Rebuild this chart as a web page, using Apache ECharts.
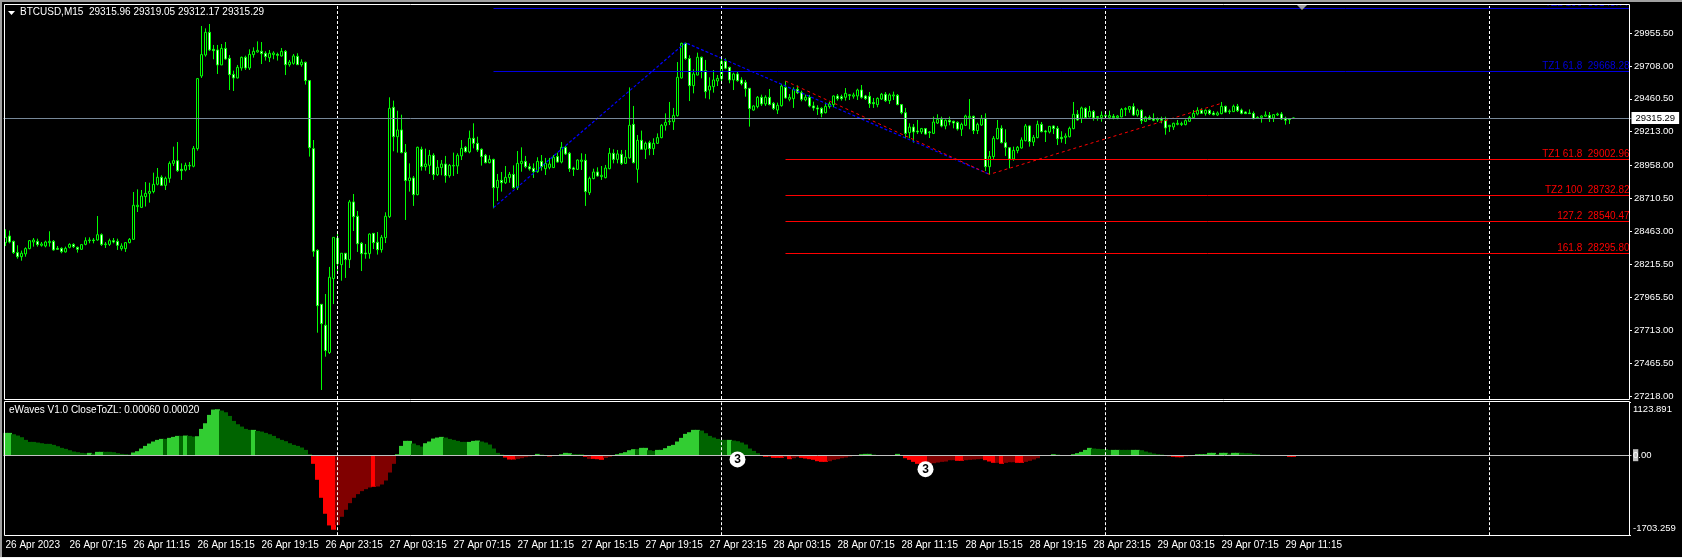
<!DOCTYPE html>
<html>
<head>
<meta charset="utf-8">
<title>BTCUSD,M15</title>
<style>
  html, body { margin: 0; padding: 0; background: #000; }
  #chart { width: 1682px; height: 558px; }
</style>
<script src="https://cdn.jsdelivr.net/npm/echarts@6/dist/echarts.min.js"></script>
</head>
<body>
<div id="chart"></div>
<script>
// 蜡烛数据 [open, close, low, high]，按天分开
const barsApr26 = [
[28376,28416,28351,28477],[28426,28381,28371,28467],[28386,28301,28291,28391],[28301,28270,28255,28356],[28270,28296,28240,28316],[28291,28331,28270,28341],[28331,28391,28326,28396],[28381,28396,28346,28411],
[28386,28361,28346,28406],[28356,28366,28346,28381],[28351,28381,28341,28391],[28376,28386,28346,28462],[28386,28321,28316,28396],[28333,28326,28321,28351],[28333,28308,28296,28341],[28306,28333,28301,28346],
[28341,28363,28333,28371],[28363,28346,28336,28371],[28341,28326,28301,28346],[28326,28361,28321,28366],[28363,28391,28356,28416],[28391,28396,28371,28416],[28396,28391,28371,28411],[28396,28436,28391,28577],
[28436,28363,28351,28446],[28361,28366,28336,28381],[28363,28391,28351,28406],[28391,28381,28371,28411],[28386,28356,28321,28406],[28331,28351,28316,28371],[28331,28376,28306,28381],[28376,28401,28371,28411],
[28401,28658,28396,28758],[28648,28658,28607,28778],[28642,28728,28637,28773],[28723,28748,28648,28833],[28748,28763,28678,28828],[28761,28816,28748,28904],[28816,28869,28808,28939],[28869,28808,28803,28884],
[28808,28861,28773,28874],[28861,28974,28828,28989],[28974,28994,28954,29100],[28994,28919,28909,29135],[28929,28919,28849,28974],[28924,28959,28914,28979],[28954,28959,28924,28984],[28952,29087,28944,29105],
[29085,29613,29070,29618],[29633,29794,29618,30010],[29791,29962,29779,29992],[29962,29829,29821,30025],[29834,29824,29759,29867],[29829,29716,29648,29867],[29716,29841,29716,29874],[29841,29761,29754,29889],
[29766,29643,29527,29791],[29645,29618,29520,29673],[29618,29698,29615,29716],[29693,29774,29673,29779],[29774,29693,29678,29786],[29693,29796,29678,29834],[29794,29819,29771,29849],[29814,29826,29809,29894],
[29819,29801,29723,29889],[29804,29779,29749,29819],[29771,29804,29738,29829],[29794,29806,29759,29819],[29796,29789,29749,29809],[29784,29819,29779,29844],[29819,29718,29640,29829],[29718,29738,29703,29754],
[29728,29784,29718,29799],[29781,29718,29716,29804],[29718,29738,29703,29759],[29736,29598,29568,29741],[29598,29092,29025,29603],[29085,28311,28270,29150],[28318,27901,27697,28326],[27911,27765,27265,27911],
[27753,27562,27516,27989],[27547,28115,27537,28193],[28105,28416,27913,28416]
];
const barsApr27 = [
[28409,28218,28145,28446],[28210,28296,28089,28296],[28296,28248,28110,28296],[28248,28683,28185,28698],[28683,28572,28464,28743],[28575,28368,28306,28615],[28371,28293,28162,28381],[28298,28291,28255,28366],
[28293,28441,28255,28446],[28446,28376,28328,28446],[28379,28323,28286,28456],[28323,28416,28301,28434],[28414,28575,28373,28605],[28572,29389,28562,29472],[29397,29175,29065,29447],[29175,29226,29055,29371],
[29226,29055,29050,29341],[29057,28844,28547,29120],[28844,28864,28761,28974],[28864,28738,28653,28879],[28738,29095,28733,29100],[29080,28949,28919,29100],[28949,28969,28919,29085],[28959,29035,28894,29075],
[29035,28889,28849,29050],[28889,28944,28879,28999],[28942,28969,28884,28999],[28969,28881,28828,29030],[28881,28959,28866,28969],[28954,28959,28879,29055],[28954,29035,28894,29050],[29030,29087,28999,29150],
[29095,29062,29055,29105],[29060,29163,29050,29221],[29163,29125,29087,29276],[29125,29075,29060,29175],[29080,29025,28957,29087],[29035,28979,28974,29045],[28979,29004,28974,29035],[29004,28791,28635,29009],
[28791,28846,28690,28894],[28846,28828,28761,28909],[28828,28869,28818,28954],[28866,28891,28828,28909],[28891,28791,28783,28959],[28791,28974,28773,29067],[28972,28989,28911,29095],[28989,28949,28937,29030],
[28949,28932,28919,28974],[28937,28911,28864,28974],[28911,28989,28904,29020],[28989,28949,28919,29037],[28934,28974,28886,29015],[28944,28969,28929,29015],[28942,29020,28939,29037],[29025,28984,28979,29055],
[28984,29095,28974,29135],[29095,29045,29037,29105],[29050,28934,28909,29060],[28939,28929,28879,28949],[28929,28999,28924,29004],[28989,28999,28924,29050],[28997,28761,28653,29045],[28753,28861,28735,28874],
[28859,28909,28854,28934],[28909,28879,28874,28944],[28874,28884,28849,28954],[28866,28939,28861,28962],[28934,29050,28929,29090],[29050,29004,28974,29080],[29004,29045,28974,29075],[29042,28974,28962,29075],
[28974,29020,28969,29075],[29015,29261,29009,29547],[29268,28979,28974,29407],[28929,29148,28828,29188],[29148,29080,29075,29221],[29080,29125,29007,29138],[29130,29085,29035,29145],[29085,29125,29037,29163],
[29125,29168,29120,29200],[29168,29261,29163,29271],[29261,29283,29221,29351],[29288,29293,29263,29437],[29288,29336,29226,29392],[29334,29623,29326,29738],[29618,29879,29613,29884],[29879,29764,29754,29884],
[29764,29560,29444,29789],[29560,29648,29502,29683],[29640,29774,29638,29809],[29774,29668,29615,29779],[29673,29515,29464,29754],[29527,29557,29457,29623],[29552,29603,29507,29678],[29595,29615,29557,29640]
];
const barsApr28 = [
[29613,29743,29590,29774],[29743,29691,29683,29766],[29698,29603,29578,29703],[29603,29648,29527,29658],[29648,29598,29590,29663],[29603,29575,29562,29623],[29585,29537,29477,29603],[29540,29387,29251,29540],
[29376,29407,29371,29412],[29402,29472,29389,29482],[29472,29422,29407,29492],[29422,29472,29407,29487],[29472,29417,29412,29535],[29427,29387,29376,29437],[29376,29412,29346,29432],[29409,29557,29402,29573],
[29547,29467,29462,29593],[29457,29472,29442,29497],[29462,29532,29392,29547],[29532,29507,29497,29562],[29507,29457,29442,29522],[29452,29472,29442,29492],[29472,29407,29397,29490],[29407,29392,29371,29439],
[29392,29384,29339,29412],[29389,29351,29321,29397],[29356,29404,29351,29432],[29402,29422,29387,29437],[29417,29482,29397,29487],[29482,29462,29447,29497],[29477,29462,29447,29492],[29472,29502,29447,29542],
[29485,29492,29452,29497],[29480,29490,29462,29507],[29482,29527,29452,29537],[29527,29472,29462,29565],[29482,29462,29452,29490],[29480,29424,29392,29512],[29432,29424,29392,29467],[29417,29464,29397,29472],
[29459,29495,29452,29505],[29495,29447,29437,29512],[29447,29490,29422,29502],[29482,29490,29452,29515],[29487,29417,29412,29497],[29417,29356,29344,29422],[29356,29200,29163,29392],[29206,29248,29163,29276],
[29248,29211,29130,29271],[29218,29211,29195,29301],[29211,29236,29195,29241],[29236,29195,29190,29241],[29211,29206,29165,29218],[29200,29286,29195,29326],[29278,29306,29271,29344],[29306,29256,29246,29326],
[29256,29299,29231,29306],[29299,29286,29261,29326],[29291,29278,29238,29296],[29283,29233,29221,29291],[29231,29268,29180,29281],[29261,29331,29256,29341],[29319,29329,29231,29459],[29329,29221,29195,29334],
[29221,29268,29195,29281],[29263,29314,29256,29339],[29314,28949,28916,29351],[28949,29027,28891,29067],[29025,29163,28999,29180],[29160,29238,29155,29301],[29238,29130,29125,29261],[29130,29095,29030,29231],
[29092,29007,28937,29097],[29007,29072,28994,29100],[29070,29095,29050,29105],[29090,29150,29085,29170],[29145,29256,29140,29271],[29256,29138,29100,29261],[29135,29170,29105,29188],[29168,29268,29163,29296],
[29268,29213,29208,29286],[29218,29211,29135,29226],[29211,29253,29200,29256],[29256,29236,29195,29261],[29238,29160,29112,29256],[29170,29160,29130,29216],[29170,29180,29120,29200],[29175,29238,29170,29251],
[29236,29344,29231,29437],[29344,29301,29296,29376],[29314,29392,29278,29402],[29389,29319,29311,29397],[29324,29366,29321,29407],[29366,29316,29296,29376],[29326,29321,29296,29331],[29319,29336,29288,29366]
];
const barsApr29 = [
[29329,29336,29321,29366],[29321,29334,29306,29371],[29329,29319,29306,29346],[29319,29331,29306,29339],[29324,29381,29321,29392],[29381,29387,29331,29397],[29381,29402,29356,29407],[29402,29339,29331,29427],
[29339,29374,29326,29387],[29374,29296,29271,29381],[29291,29321,29286,29331],[29321,29306,29301,29336],[29309,29299,29291,29351],[29301,29309,29286,29321],[29309,29299,29276,29326],[29296,29241,29190,29326],
[29251,29261,29211,29263],[29248,29276,29226,29281],[29268,29276,29261,29301],[29273,29268,29256,29288],[29266,29296,29261,29306],[29291,29321,29286,29331],[29319,29351,29311,29376],[29346,29374,29336,29397],
[29374,29351,29346,29389],[29351,29374,29334,29381],[29374,29349,29339,29381],[29354,29341,29336,29369],[29339,29354,29331,29366],[29349,29404,29344,29437],[29404,29361,29354,29409],[29364,29369,29346,29381],
[29364,29404,29361,29417],[29404,29371,29361,29422],[29376,29351,29344,29387],[29361,29349,29346,29366],[29354,29349,29346,29381],[29351,29311,29306,29366],[29314,29321,29309,29329],[29319,29331,29281,29336],
[29329,29339,29326,29366],[29336,29316,29286,29361],[29316,29341,29286,29346],[29339,29346,29331,29356],[29346,29309,29301,29361],[29314,29299,29266,29326],[29309,29304,29271,29314],[29315.96,29315.29,29312.17,29319.05]
];

// eWaves 柱子
const waveValues = [
475,475,446,418,383,326,283,283,269,255,241,241,220,191,156,135,106,78,64,50,43,50,35,71,71,71,71,64,43,28,21,14,
57,85,142,198,248,291,326,347,347,369,390,411,411,418,411,397,404,560,680,858,971,978,950,914,836,730,659,609,560,539,539,517,503,475,446,411,361,326,298,255,220,198,163,113,21,
-184,-524,-907,-1247,-1495,-1587,-1488,-1311,-1162,-1021,-907,-829,-765,-723,-687,-673,-666,-624,-539,-369,-184,
21,198,305,305,248,213,184,255,291,354,376,390,376,347,326,305,283,283,283,305,312,291,269,227,142,50,14,
-50,-92,-92,-78,-64,-43,-28,0,28,14,0,-28,0,0,21,50,43,21,21,21,-35,-78,-78,-85,-99,-57,-35,0,
21,43,64,106,128,128,156,156,106,92,113,113,149,198,220,291,369,454,489,539,539,524,468,411,376,347,326,326,326,312,298,269,227,142,92,43,0,
-35,-28,-57,-57,-57,-43,-85,-64,-43,-57,-71,-85,-99,-128,-142,-142,-128,-99,-85,-64,-50,-28,0,0,21,28,28,14,0,0,0,0,0,28,0,
-64,-99,-142,-184,-206,-206,-184,-170,-156,-142,-135,-106,-106,-120,-120,-106,-99,-92,-85,-78,-106,-135,-163,-163,-184,-163,-149,-149,-163,-163,-142,-120,-92,-64,0,0,0,21,14,0,0,0,
21,43,71,113,156,142,135,128,128,113,113,113,113,113,113,113,113,106,78,57,35,21,14,0,
-21,-35,-43,-43,-28,-21,-14,21,21,21,50,50,21,50,50,35,50,50,50,43,43,28,21,0,0,0,0,0,0,0,-35,-35
];
// 亮色柱子所在的区间
const waveStrongRanges = [[0,1],[21,21],[23,24],[32,39],[41,43],[45,45],[48,53],[62,62],[77,82],[92,92],[98,101],[105,109],[116,118],[125,127],[133,133],[136,136],[139,141],[145,145],[147,149],[153,157],[159,160],[163,173],[181,181],[190,194],[196,196],[199,205],[214,216],[223,223],[225,230],[238,239],[245,247],[249,249],[253,254],[262,262],[267,271],[277,278],[282,283],[291,294],[298,302],[304,305],[307,308],[321,322]];
const waveMarks = [[183,-90],[230,-298]];

// 波浪线和水平位
const blueWave = [[122,28640],[170,29884],[246,28891]];
const redWave = [[195,29595],[246,28891],[304,29427]];
const blueLevels = [30143.77,29668.28];
const blueLevelNames = ['TZ2 100','TZ1 61.8'];
const redLevels = [29002.96,28732.82,28540.47,28295.80];
const redLevelNames = ['TZ1 61.8','TZ2 100','127.2','161.8'];
const lastPrice = 29315.29;

// 坐标轴文字
const priceTicks = [29955.5,29708,29460.5,29213,28958,28710.5,28463,28215.5,27965.5,27713,27465.5,27218];
const waveTicks = [1123.891,0,-1703.259];
const waveTickText = ['1123.891','0.00','-1703.259'];
const waveLabelAt = [982,0,-1568];
const timeLabels = ['26 Apr 2023','26 Apr 07:15','26 Apr 11:15','26 Apr 15:15','26 Apr 19:15','26 Apr 23:15','27 Apr 03:15','27 Apr 07:15','27 Apr 11:15','27 Apr 15:15','27 Apr 19:15','27 Apr 23:15','28 Apr 03:15','28 Apr 07:15','28 Apr 11:15','28 Apr 15:15','28 Apr 19:15','28 Apr 23:15','29 Apr 03:15','29 Apr 07:15','29 Apr 11:15'];
const daySeparators = [83,179,275,371];

const FONT = '"Liberation Sans", sans-serif';
const bars = barsApr26.concat(barsApr27, barsApr28, barsApr29);
// 右边留空到图框，每根 K 线 4px
const categories = [];
for (let i = 0; i < 407; i++) categories.push(String(i));

function isStrong(i) {
  return waveStrongRanges.some(function(r) { return i >= r[0] && i <= r[1]; });
}
const waveData = waveValues.map(function(v, i) {
  let color = v >= 0 ? (isStrong(i) ? '#32cd32' : '#006400') : (isStrong(i) ? '#ff0000' : '#800000');
  return { value: v, itemStyle: { color: color } };
});

function separatorLines() {
  return {
    silent: true, symbol: 'none', animation: false,
    label: { show: false },
    lineStyle: { color: '#fff', width: 1, type: [3, 2] },
    data: daySeparators.map(function(i) { return { xAxis: i }; })
  };
}

function levelLine(price, name, startBar, color) {
  return [
    { xAxis: startBar, yAxis: price,
      lineStyle: { color: color, width: 1, type: 'solid' },
      label: {
        show: true, position: 'insideEndTop', distance: [0, 0],
        formatter: name + '  ' + price.toFixed(2),
        color: color, fontFamily: FONT, fontSize: 10
      } },
    { xAxis: 406, yAxis: price }
  ];
}

const levelData = blueLevels.map(function(p, i) { return levelLine(p, blueLevelNames[i], blueWave[0][0], '#0000e0'); })
  .concat(redLevels.map(function(p, i) { return levelLine(p, redLevelNames[i], redWave[0][0], '#ff0000'); }));

let myChart = echarts.init(document.getElementById('chart'), null, { renderer: 'canvas' });

let option = {
  animation: false,
  backgroundColor: '#000',
  grid: [
    { left: 3.5, top: 5, width: 1628, height: 394 },
    { left: 3.5, top: 402.4, width: 1628, height: 132.8 }
  ],
  xAxis: [
    { type: 'category', gridIndex: 0, data: categories, show: false },
    {
      type: 'category', gridIndex: 1, data: categories,
      axisLine: { show: false },
      axisTick: {
        alignWithLabel: true, length: 3, lineStyle: { color: '#fff' },
        interval: function(i) { return i % 16 === 0 && i <= 320; }
      },
      axisLabel: {
        color: '#fff', fontFamily: FONT, fontSize: 10, align: 'left', margin: 5,
        interval: function(i) { return i % 16 === 0 && i <= 320; },
        formatter: function(v, i) { return timeLabels[Number(v) / 16]; }
      }
    }
  ],
  yAxis: [
    {
      type: 'value', gridIndex: 0, position: 'right', offset: -2.5,
      min: 27197, max: 30168.2, splitLine: { show: false },
      axisLine: { show: false },
      axisTick: { show: true, length: 3, customValues: priceTicks, lineStyle: { color: '#fff' } },
      axisLabel: {
        color: '#fff', fontFamily: FONT, fontSize: 9.5, margin: 5, customValues: priceTicks,
        formatter: function(v) { return v.toFixed(2); }
      }
    },
    {
      type: 'value', gridIndex: 1, position: 'right', offset: -2.5,
      min: waveTicks[2], max: waveTicks[0], splitLine: { show: false },
      axisLine: { show: false },
      axisTick: { show: true, length: 2, customValues: [waveTicks[0], waveTicks[2]], lineStyle: { color: '#fff' } },
      axisLabel: {
        color: '#fff', fontFamily: FONT, fontSize: 9.5, margin: 4, customValues: waveLabelAt,
        formatter: function(v) {
          let i = waveLabelAt.indexOf(v);
          return v === 0 ? '{hl|0}.00' : waveTickText[i];
        },
        rich: { hl: { backgroundColor: '#c0c0c0', color: '#fff', fontFamily: FONT, fontSize: 9.5, padding: [1, 0, 1, 0] } }
      }
    }
  ],
  series: [
    {
      name: 'BTCUSD', type: 'candlestick', xAxisIndex: 0, yAxisIndex: 0, data: bars, barWidth: 2, large: false,
      itemStyle: { color: '#000', color0: '#fff', borderColor: '#00ff00', borderColor0: '#00ff00', borderWidth: 1 },
      markLine: separatorLines()
    },
    {
      type: 'line', xAxisIndex: 0, yAxisIndex: 0, data: blueWave, symbol: 'none', silent: true, z: 3,
      lineStyle: { color: '#0000ff', width: 1.2, type: [3, 2] }
    },
    {
      type: 'line', xAxisIndex: 0, yAxisIndex: 0, data: redWave, symbol: 'none', silent: true, z: 3,
      lineStyle: { color: '#ff0000', width: 1, type: [3, 3] },
      markLine: { silent: true, symbol: 'none', animation: false, data: levelData }
    },
    {
      type: 'line', xAxisIndex: 0, yAxisIndex: 0, data: [], silent: true, z: 3,
      markLine: {
        silent: true, symbol: 'none', animation: false,
        lineStyle: { color: '#778899', width: 1, type: 'solid' },
        label: {
          show: true, position: 'end', distance: 0, formatter: lastPrice.toFixed(2),
          color: '#000', backgroundColor: '#fff', padding: [1, 4, 1, 4], fontFamily: FONT, fontSize: 9.5
        },
        data: [{ yAxis: lastPrice }]
      }
    },
    {
      name: 'eWaves', type: 'bar', xAxisIndex: 1, yAxisIndex: 1, data: waveData, barWidth: 5,
      markLine: {
        silent: true, symbol: 'none', animation: false, label: { show: false },
        data: [
          { yAxis: 0, lineStyle: { color: '#c0c0c0', width: 1, type: 'solid' } }
        ].concat(daySeparators.map(function(i) {
          return { xAxis: i, lineStyle: { color: '#fff', width: 1, type: [3, 2] } };
        }))
      }
    },
    {
      type: 'scatter', xAxisIndex: 1, yAxisIndex: 1, data: waveMarks, symbolSize: 16, silent: true, z: 5,
      itemStyle: { color: '#fff', opacity: 1 },
      label: { show: true, position: 'inside', formatter: '3', color: '#000', fontFamily: FONT, fontSize: 12, fontWeight: 'bold' }
    }
  ],
  graphic: [
    // 窗口边和图框
    { type: 'rect', z: 50, shape: { x: 0, y: 0, width: 1682, height: 4 }, style: { fill: '#000' } },
    { type: 'rect', z: 51, shape: { x: 0, y: 0, width: 1682, height: 2 }, style: { fill: '#a0a0a0' } },
    { type: 'rect', z: 51, shape: { x: 0, y: 0, width: 2, height: 558 }, style: { fill: '#a0a0a0' } },
    { type: 'rect', z: 51, shape: { x: 0, y: 557, width: 1682, height: 1 }, style: { fill: '#f0f0f0' } },
    { type: 'rect', z: 52, shape: { x: 4.5, y: 4.5, width: 1625, height: 395 }, style: { fill: null, stroke: '#fff', lineWidth: 1 } },
    { type: 'rect', z: 52, shape: { x: 4.5, y: 401.5, width: 1625, height: 134 }, style: { fill: null, stroke: '#fff', lineWidth: 1 } },
    { type: 'polygon', z: 52, shape: { points: [[8, 11], [15, 11], [11.5, 15]] }, style: { fill: '#fff' } },
    { type: 'polygon', z: 52, shape: { points: [[1297, 5], [1307, 5], [1302, 10]] }, style: { fill: '#a0a0a0' } },
    { type: 'text', z: 52, x: 20, y: 7, style: { text: 'BTCUSD,M15  29315.96 29319.05 29312.17 29315.29', fill: '#fff', font: '10px ' + FONT } },
    { type: 'text', z: 52, x: 9, y: 405.5, style: { text: 'eWaves V1.0 CloseToZL: 0.00060 0.00020', fill: '#fff', font: '10px ' + FONT } }
  ]
};

myChart.setOption(option);
window.addEventListener('resize', function() {
  myChart.resize();
});
</script>
</body>
</html>
